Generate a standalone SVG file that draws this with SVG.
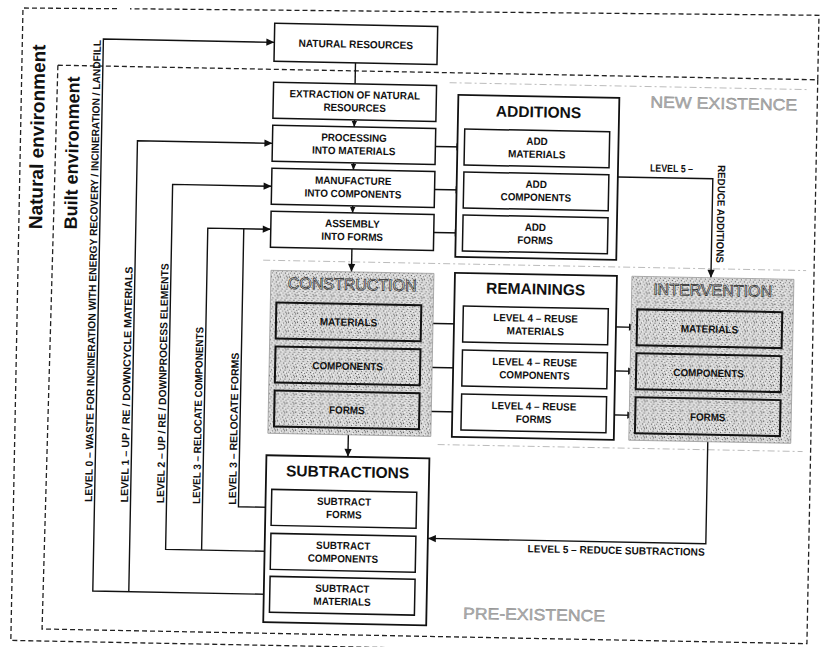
<svg xmlns="http://www.w3.org/2000/svg" width="820" height="647" viewBox="0 0 820 647">
<style>
.bx{fill:#fff;stroke:#111;stroke-width:1.5}
.grp{fill:#fff;stroke:#111;stroke-width:1.8}
.tex{fill:url(#tex);stroke:#999;stroke-width:0.8}
.tin{fill:url(#tex);stroke:#111;stroke-width:2}
.tx{font-family:"Liberation Sans",Arial,sans-serif;font-weight:bold;font-size:10.5px;fill:#111;text-anchor:middle}
.lv{font-size:10.5px}
.ttl{font-size:15.5px}
.st{text-anchor:start}
.out{font-family:"Liberation Sans",Arial,sans-serif;font-size:16px;fill:#fafafa;stroke:#222;stroke-width:0.7;text-anchor:middle}
.gry{font-family:"Liberation Sans",Arial,sans-serif;font-size:16px;fill:#b0b0b0;stroke:#888;stroke-width:0.4}
.env{font-family:"Liberation Sans",Arial,sans-serif;font-weight:bold;fill:#111;text-anchor:middle}
.conn{fill:none;stroke:#111;stroke-width:1.4}
.dash{fill:none;stroke:#222;stroke-width:1.3;stroke-dasharray:5 3}
.faint{fill:none;stroke:#aaa;stroke-width:0.8;stroke-dasharray:7 3 2 3}
</style>
<defs>
<pattern id="tex" width="9" height="9" patternUnits="userSpaceOnUse">
<rect width="9" height="9" fill="#d9d9d9"/>
<rect x="0" y="0" width="1" height="1" fill="#555"/>
<rect x="4" y="1" width="1" height="1" fill="#777"/>
<rect x="7" y="0" width="1" height="2" fill="#888"/>
<rect x="2" y="3" width="1" height="1" fill="#666"/>
<rect x="6" y="3" width="2" height="1" fill="#999"/>
<rect x="1" y="5" width="1" height="1" fill="#888"/>
<rect x="5" y="5" width="1" height="1" fill="#555"/>
<rect x="8" y="6" width="1" height="1" fill="#777"/>
<rect x="3" y="7" width="1" height="1" fill="#999"/>
<rect x="0" y="8" width="1" height="1" fill="#aaa"/>
<rect x="6" y="8" width="1" height="1" fill="#666"/>
<rect x="3" y="2" width="1" height="1" fill="#fff"/>
<rect x="7" y="5" width="1" height="1" fill="#fff"/>
<rect x="1" y="7" width="1" height="1" fill="#fff"/>
</pattern>
<marker id="ah" viewBox="0 0 10 10" refX="10" refY="5" markerWidth="9" markerHeight="8" markerUnits="userSpaceOnUse" orient="auto"><path d="M0,0.5 L10,5 L0,9.5 z" fill="#111"/></marker>
<marker id="as" viewBox="0 0 10 10" refX="10" refY="5" markerWidth="6" markerHeight="6" markerUnits="userSpaceOnUse" orient="auto"><path d="M0,0.5 L10,5 L0,9.5 z" fill="#111"/></marker>
</defs>
<rect x="0" y="0" width="820" height="647" fill="#fff"/>
<g transform="rotate(1.1 410 323)">

<g id="borders">
<path class="dash" d="M813 72 V7.5 L124 14.2 M111 14.4 L17 15.5 V648 H824"/>
<path class="dash" d="M53 72 H813 V636 H48 Z"/>
<path class="faint" d="M445 82 H805 M262 263 H805 M440 444 H805"/>
</g>

<g id="env-labels">
<text class="env" font-size="19" transform="translate(40.2 144) rotate(-90)">Natural environment</text>
<text class="env" font-size="18" transform="translate(75 159.5) rotate(-90)">Built environment</text>
<text class="gry" x="646" y="103" textLength="147" lengthAdjust="spacingAndGlyphs">NEW EXISTENCE</text>
<text class="gry" x="468.6" y="617.6" textLength="142" lengthAdjust="spacingAndGlyphs">PRE-EXISTENCE</text>
</g>

<g id="connectors">
<line class="conn" x1="350.5" y1="64" x2="350.5" y2="85"/>
<line class="conn" x1="350.5" y1="121" x2="350.5" y2="128" marker-end="url(#as)"/>
<line class="conn" x1="350.5" y1="164" x2="350.5" y2="171" marker-end="url(#as)"/>
<line class="conn" x1="350.5" y1="207" x2="350.5" y2="214" marker-end="url(#as)"/>
<line class="conn" x1="350.5" y1="250" x2="350.5" y2="273" marker-end="url(#ah)"/>
<line class="conn" x1="350.5" y1="436" x2="350.5" y2="458" marker-end="url(#ah)"/>
<line class="conn" x1="348.5" y1="341" x2="348.5" y2="349" marker-end="url(#as)"/>
<line class="conn" x1="348.5" y1="385" x2="348.5" y2="393" marker-end="url(#as)"/>
<line class="conn" x1="347.5" y1="528" x2="347.5" y2="536" marker-end="url(#as)"/>
<line class="conn" x1="347.5" y1="572" x2="347.5" y2="579" marker-end="url(#as)"/>
<line class="conn" x1="533.5" y1="164" x2="533.5" y2="171" marker-end="url(#as)"/>
<line class="conn" x1="533.5" y1="207" x2="533.5" y2="214" marker-end="url(#as)"/>
<line class="conn" x1="535.5" y1="341" x2="535.5" y2="349" marker-end="url(#as)"/>
<line class="conn" x1="535.5" y1="385" x2="535.5" y2="393" marker-end="url(#as)"/>
<line class="conn" x1="709.5" y1="341" x2="709.5" y2="349" marker-end="url(#as)"/>
<line class="conn" x1="709.5" y1="385" x2="709.5" y2="393" marker-end="url(#as)"/>
<line class="conn" x1="432" y1="146" x2="461" y2="146" marker-end="url(#ah)"/>
<line class="conn" x1="432" y1="189" x2="461" y2="189" marker-end="url(#ah)"/>
<line class="conn" x1="432" y1="232" x2="461" y2="232" marker-end="url(#ah)"/>
<line class="conn" x1="421" y1="323" x2="463" y2="323"/>
<line class="conn" x1="421" y1="367" x2="463" y2="367" marker-end="url(#ah)"/>
<line class="conn" x1="421" y1="411" x2="463" y2="411" marker-end="url(#ah)"/>
<line class="conn" x1="608" y1="323" x2="637" y2="323" marker-end="url(#ah)"/>
<line class="conn" x1="608" y1="367" x2="637" y2="367" marker-end="url(#ah)"/>
<line class="conn" x1="608" y1="411" x2="637" y2="411" marker-end="url(#ah)"/>
<path class="conn" d="M615 173 H710 V272" marker-end="url(#ah)"/>
<path class="conn" d="M710 436 V538 H432" marker-end="url(#ah)"/>
<path class="conn" d="M275 597 H98 V45 H269" marker-end="url(#ah)"/>
<path class="conn" d="M134 597 V146 H269" marker-end="url(#ah)"/>
<path class="conn" d="M275 554 H170 V189 H269" marker-end="url(#ah)"/>
<path class="conn" d="M206 554 V232 H269" marker-end="url(#ah)"/>
<path class="conn" d="M275 510 H242 V232"/>
<text class="tx lv st" transform="translate(95.5 508) rotate(-90)" textLength="462" lengthAdjust="spacingAndGlyphs">LEVEL 0 – WASTE FOR INCINERATION WITH ENERGY RECOVERY / INCINERATION / LANDFILL</text>
<text class="tx lv st" transform="translate(131.5 508) rotate(-90)" textLength="236" lengthAdjust="spacingAndGlyphs">LEVEL 1 – UP / RE / DOWNCYCLE  MATERIALS</text>
<text class="tx lv st" transform="translate(167.5 508) rotate(-90)" textLength="240" lengthAdjust="spacingAndGlyphs">LEVEL 2 – UP / RE / DOWNPROCESS  ELEMENTS</text>
<text class="tx lv st" transform="translate(203.5 508) rotate(-90)" textLength="177" lengthAdjust="spacingAndGlyphs">LEVEL 3 – RELOCATE COMPONENTS</text>
<text class="tx lv st" transform="translate(239.5 508) rotate(-90)" textLength="152" lengthAdjust="spacingAndGlyphs">LEVEL 3 – RELOCATE  FORMS</text>
<text class="tx lv st" x="647" y="167" textLength="43" lengthAdjust="spacingAndGlyphs">LEVEL 5 –</text>
<text class="tx lv st" transform="translate(715 159) rotate(90)" textLength="98" lengthAdjust="spacingAndGlyphs">REDUCE ADDITIONS</text>
<text class="tx lv st" x="532" y="550" textLength="177" lengthAdjust="spacingAndGlyphs">LEVEL 5 – REDUCE SUBTRACTIONS</text>
</g>

<g id="natural-resources"><rect class="bx" x="269" y="26" width="163" height="38"/><text class="tx" x="350.5" y="49" textLength="114.6" lengthAdjust="spacingAndGlyphs">NATURAL RESOURCES</text></g>
<g id="extraction"><rect class="bx" x="269" y="85" width="163" height="36"/><text class="tx" x="350.5" y="99.5" textLength="130.6" lengthAdjust="spacingAndGlyphs">EXTRACTION OF NATURAL</text><text class="tx" x="350.5" y="112.5" textLength="62.3" lengthAdjust="spacingAndGlyphs">RESOURCES</text></g>
<g id="processing"><rect class="bx" x="269" y="128" width="163" height="36"/><text class="tx" x="350.5" y="142.5" textLength="65.6" lengthAdjust="spacingAndGlyphs">PROCESSING</text><text class="tx" x="350.5" y="155.5" textLength="83.6" lengthAdjust="spacingAndGlyphs">INTO MATERIALS</text></g>
<g id="manufacture"><rect class="bx" x="269" y="171" width="163" height="36"/><text class="tx" x="350.5" y="185.5" textLength="76.5" lengthAdjust="spacingAndGlyphs">MANUFACTURE</text><text class="tx" x="350.5" y="198.5" textLength="96.8" lengthAdjust="spacingAndGlyphs">INTO COMPONENTS</text></g>
<g id="assembly"><rect class="bx" x="269" y="214" width="163" height="36"/><text class="tx" x="350.5" y="228.5" textLength="54.7" lengthAdjust="spacingAndGlyphs">ASSEMBLY</text><text class="tx" x="350.5" y="241.5" textLength="61.8" lengthAdjust="spacingAndGlyphs">INTO FORMS</text></g>

<g id="additions">
<rect class="grp" x="454" y="94" width="161" height="162"/>
<text class="tx ttl" x="534.5" y="115">ADDITIONS</text>
<rect class="bx" x="461" y="128" width="145" height="36"/><text class="tx" x="533.5" y="142.5" textLength="21.3" lengthAdjust="spacingAndGlyphs">ADD</text><text class="tx" x="533.5" y="155.5" textLength="57.4" lengthAdjust="spacingAndGlyphs">MATERIALS</text>
<rect class="bx" x="461" y="171" width="145" height="36"/><text class="tx" x="533.5" y="185.5" textLength="21.3" lengthAdjust="spacingAndGlyphs">ADD</text><text class="tx" x="533.5" y="198.5" textLength="70.5" lengthAdjust="spacingAndGlyphs">COMPONENTS</text>
<rect class="bx" x="461" y="214" width="145" height="36"/><text class="tx" x="533.5" y="228.5" textLength="21.3" lengthAdjust="spacingAndGlyphs">ADD</text><text class="tx" x="533.5" y="241.5" textLength="35.5" lengthAdjust="spacingAndGlyphs">FORMS</text>
</g>

<g id="construction">
<rect class="tex" x="270" y="273" width="163" height="163"/>
<text class="out" x="351.5" y="291">CONSTRUCTION</text>
<rect class="tin" x="276" y="305" width="145" height="36"/><text class="tx" x="348.5" y="327" textLength="57.4" lengthAdjust="spacingAndGlyphs">MATERIALS</text>
<rect class="tin" x="276" y="349" width="145" height="36"/><text class="tx" x="348.5" y="371" textLength="70.5" lengthAdjust="spacingAndGlyphs">COMPONENTS</text>
<rect class="tin" x="276" y="393" width="145" height="36"/><text class="tx" x="348.5" y="415" textLength="35.5" lengthAdjust="spacingAndGlyphs">FORMS</text>
</g>

<g id="remainings">
<rect class="grp" x="454" y="272" width="162" height="164"/>
<text class="tx ttl" x="535" y="292">REMAININGS</text>
<rect class="bx" x="463" y="305" width="145" height="36"/><text class="tx" x="535.5" y="319.5" textLength="84.8" lengthAdjust="spacingAndGlyphs">LEVEL 4 – REUSE</text><text class="tx" x="535.5" y="332.5" textLength="57.4" lengthAdjust="spacingAndGlyphs">MATERIALS</text>
<rect class="bx" x="463" y="349" width="145" height="36"/><text class="tx" x="535.5" y="363.5" textLength="84.8" lengthAdjust="spacingAndGlyphs">LEVEL 4 – REUSE</text><text class="tx" x="535.5" y="376.5" textLength="70.5" lengthAdjust="spacingAndGlyphs">COMPONENTS</text>
<rect class="bx" x="463" y="393" width="145" height="36"/><text class="tx" x="535.5" y="407.5" textLength="84.8" lengthAdjust="spacingAndGlyphs">LEVEL 4 – REUSE</text><text class="tx" x="535.5" y="420.5" textLength="35.5" lengthAdjust="spacingAndGlyphs">FORMS</text>
</g>

<g id="intervention">
<rect class="tex" x="631" y="272" width="162" height="164"/>
<text class="out" x="712" y="290">INTERVENTION</text>
<rect class="tin" x="637" y="305" width="145" height="36"/><text class="tx" x="709.5" y="327" textLength="57.4" lengthAdjust="spacingAndGlyphs">MATERIALS</text>
<rect class="tin" x="637" y="349" width="145" height="36"/><text class="tx" x="709.5" y="371" textLength="70.5" lengthAdjust="spacingAndGlyphs">COMPONENTS</text>
<rect class="tin" x="637" y="393" width="145" height="36"/><text class="tx" x="709.5" y="415" textLength="35.5" lengthAdjust="spacingAndGlyphs">FORMS</text>
</g>

<g id="subtractions">
<rect class="grp" x="269" y="458" width="163" height="167"/>
<text class="tx ttl" x="350.5" y="478.5">SUBTRACTIONS</text>
<rect class="bx" x="275" y="492" width="145" height="36"/><text class="tx" x="347.5" y="506.5" textLength="54.1" lengthAdjust="spacingAndGlyphs">SUBTRACT</text><text class="tx" x="347.5" y="519.5" textLength="35.5" lengthAdjust="spacingAndGlyphs">FORMS</text>
<rect class="bx" x="275" y="536" width="145" height="36"/><text class="tx" x="347.5" y="550.5" textLength="54.1" lengthAdjust="spacingAndGlyphs">SUBTRACT</text><text class="tx" x="347.5" y="563.5" textLength="70.5" lengthAdjust="spacingAndGlyphs">COMPONENTS</text>
<rect class="bx" x="275" y="579" width="145" height="36"/><text class="tx" x="347.5" y="593.5" textLength="54.1" lengthAdjust="spacingAndGlyphs">SUBTRACT</text><text class="tx" x="347.5" y="606.5" textLength="57.4" lengthAdjust="spacingAndGlyphs">MATERIALS</text>
</g>

</g>
</svg>
